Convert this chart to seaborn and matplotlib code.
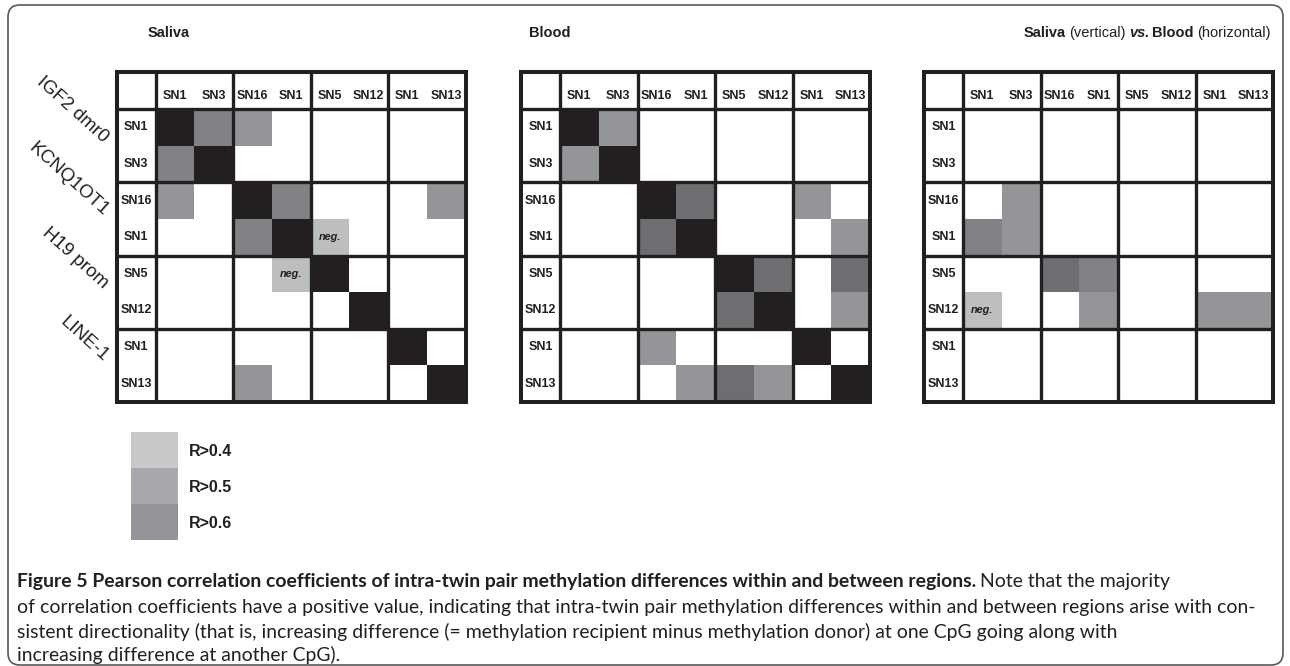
import numpy as np
import pandas as pd
import seaborn as sns
import matplotlib
matplotlib.use("Agg")
from matplotlib import pyplot as plt
from matplotlib import patches
from matplotlib.colors import ListedColormap

# CpG sites (same order for rows and columns), grouped two per region
regions = ['IGF2 dmr0', 'KCNQ1OT1', 'H19 prom', 'LINE-1']
sites = ['SN1', 'SN3', 'SN16', 'SN1', 'SN5', 'SN12', 'SN1', 'SN13']

# shade class per cell: 0 none, 1 R>0.4, 2 R>0.5, 3 R>0.6, 4 R>0.7, 5 same CpG
saliva = [
    [5, 3, 2, 0, 0, 0, 0, 0],
    [3, 5, 0, 0, 0, 0, 0, 0],
    [2, 0, 5, 3, 0, 0, 0, 2],
    [0, 0, 3, 5, 1, 0, 0, 0],
    [0, 0, 0, 1, 5, 0, 0, 0],
    [0, 0, 0, 0, 0, 5, 0, 0],
    [0, 0, 0, 0, 0, 0, 5, 0],
    [0, 0, 2, 0, 0, 0, 0, 5],
]
blood = [
    [5, 2, 0, 0, 0, 0, 0, 0],
    [2, 5, 0, 0, 0, 0, 0, 0],
    [0, 0, 5, 4, 0, 0, 2, 0],
    [0, 0, 4, 5, 0, 0, 0, 2],
    [0, 0, 0, 0, 5, 4, 0, 4],
    [0, 0, 0, 0, 4, 5, 0, 2],
    [0, 0, 2, 0, 0, 0, 5, 0],
    [0, 0, 0, 2, 4, 2, 0, 5],
]
saliva_vs_blood = [
    [0, 0, 0, 0, 0, 0, 0, 0],
    [0, 0, 0, 0, 0, 0, 0, 0],
    [0, 2, 0, 0, 0, 0, 0, 0],
    [3, 2, 0, 0, 0, 0, 0, 0],
    [0, 0, 4, 3, 0, 0, 0, 0],
    [1, 0, 0, 2, 0, 0, 2, 2],
    [0, 0, 0, 0, 0, 0, 0, 0],
    [0, 0, 0, 0, 0, 0, 0, 0],
]
# (row, col) of negative correlations
saliva_neg = [(3, 4), (4, 3)]
blood_neg = []
cross_neg = [(5, 0)]

shades = ['#ffffff', '#bcbec0', '#939598', '#808285', '#6d6e71', '#231f20']
legend_labels = ['R>0.4', 'R>0.5', 'R>0.6']
legend_shades = ['#c7c8ca', '#a7a9ac', '#939598']

ink = '#231f20'
W, H = 1290, 666

sns.set_style("white")
plt.rcParams['font.family'] = ['Liberation Sans', 'DejaVu Sans']
cell_size = 9.0

fig = plt.figure(figsize=(W / 100, H / 100), dpi=100)
fig.patch.set_facecolor('white')

cmap = ListedColormap(shades)


def draw_matrix(left, grid, neg, with_regions=False):
    ax = fig.add_axes([left / W, 1 - 402 / H, 310 / W, 293 / H])
    df = pd.DataFrame(grid, index=sites, columns=sites)
    annot = np.full(df.shape, '', dtype=object)
    for r, c in neg:
        annot[r, c] = 'neg.'
    sns.heatmap(df, ax=ax, cmap=cmap, vmin=-0.5, vmax=5.5, cbar=False,
                annot=annot, fmt='', xticklabels=sites, yticklabels=sites,
                annot_kws=dict(color=ink, fontsize=cell_size - 1.2, fontstyle='italic',
                               fontweight='bold'))
    # table rules: outer frame, header row / label column, region blocks
    ax.add_patch(patches.Rectangle((-1, -1), 9, 9, fill=False, lw=2.9, ec=ink,
                                   clip_on=False, joinstyle='miter'))
    for k in [0, 2, 4, 6]:
        ax.plot([k, k], [-1, 8], color=ink, lw=2.4, clip_on=False, solid_capstyle='butt')
        ax.plot([-1, 8], [k, k], color=ink, lw=2.4, clip_on=False, solid_capstyle='butt')
    ax.xaxis.tick_top()
    ax.tick_params(axis='x', length=0, pad=5)
    ax.tick_params(axis='y', length=0, pad=14, labelrotation=0)
    for t in ax.get_xticklabels() + ax.get_yticklabels():
        t.set_fontweight('bold')
        t.set_fontsize(cell_size)
        t.set_color(ink)
        t.set_rotation(0)
    for t in ax.get_yticklabels():
        t.set_ha('center')
    if with_regions:
        for i, name in enumerate(regions):
            ax.annotate(name, xy=(-1, 2 * i + 1), xytext=(-8, 4.5), textcoords='offset points',
                        ha='right', va='center', rotation=-42, rotation_mode='anchor',
                        fontsize=13.5, color=ink, annotation_clip=False)
    return ax


draw_matrix(155.5, saliva, saliva_neg, with_regions=True)
draw_matrix(560, blood, blood_neg)
draw_matrix(963, saliva_vs_blood, cross_neg)

# legend as a small heatmap
lax = fig.add_axes([131 / W, 1 - 540 / H, 47 / W, 108 / H])
leg = pd.DataFrame({'shade': range(len(legend_labels))}, index=legend_labels)
sns.heatmap(leg, ax=lax, cmap=ListedColormap(legend_shades), vmin=-0.5, vmax=2.5,
            cbar=False, xticklabels=False, yticklabels=legend_labels)
lax.yaxis.tick_right()
lax.tick_params(axis='y', length=0, pad=8)
for t in lax.get_yticklabels():
    t.set_fontweight('bold')
    t.set_fontsize(11.5)
    t.set_rotation(0)
    t.set_color(ink)

renderer = fig.canvas.get_renderer()


def run_text(x, y, parts, size, family='Liberation Sans', gap=0.3):
    # parts: list of (text, weight, style); placed one after another
    for s, weight, style in parts:
        t = fig.text(x / W, 1 - y / H, s, fontsize=size, fontweight=weight, fontstyle=style,
                     family=family, color=ink, va='center', ha='left')
        x = t.get_window_extent(renderer).x1 + size * gap
    return x


title_size = 10.5
run_text(148, 33, [('Saliva', 'bold', 'normal')], title_size)
run_text(529, 33, [('Blood', 'bold', 'normal')], title_size)
run_text(1024, 33, [('Saliva', 'bold', 'normal'), ('(vertical)', 'normal', 'normal'),
                    ('vs.', 'bold', 'italic'), ('Blood', 'bold', 'normal'),
                    ('(horizontal)', 'normal', 'normal')], title_size, gap=0.3)

# caption
cap_bold = 'Figure 5 Pearson correlation coefficients of intra-twin pair methylation differences within and between regions.'
cap_lines = [
    'Note that the majority',
    'of correlation coefficients have a positive value, indicating that intra-twin pair methylation differences within and between regions arise with con-',
    'sistent directionality (that is, increasing difference (= methylation recipient minus methylation donor) at one CpG going along with',
    'increasing difference at another CpG).',
]
cap_font = 'Lato'
probe = fig.text(0, 0, cap_lines[1], fontsize=11, family=cap_font)
cap_size = 11 * 1239 / probe.get_window_extent(renderer).width
probe.remove()
cap_y = [582, 607, 632, 655]
run_text(17, cap_y[0], [(cap_bold, 'bold', 'normal'), (cap_lines[0], 'normal', 'normal')], cap_size, cap_font)
for s, y in zip(cap_lines[1:], cap_y[1:]):
    run_text(17, y, [(s, 'normal', 'normal')], cap_size, cap_font)

box = patches.FancyBboxPatch((0.08, 0.01), 12.75, 6.60, boxstyle='round,pad=0,rounding_size=0.12',
                             transform=fig.dpi_scale_trans, fill=False, ec='#58595b', lw=1.2)
fig.patches.append(box)

fig.savefig('out.png', dpi=100)
